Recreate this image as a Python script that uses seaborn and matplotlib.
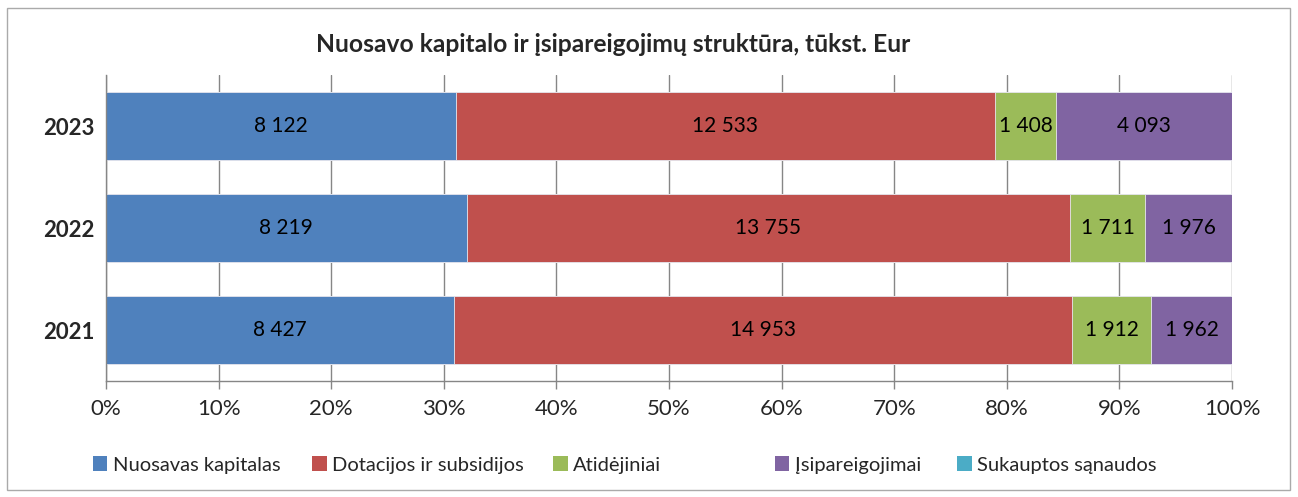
import numpy as np
import pandas as pd
import matplotlib
matplotlib.use("Agg")
import matplotlib.pyplot as plt
from matplotlib.patches import Patch, Rectangle
import seaborn as sns

#data (tukst. Eur)
years = ["2023", "2022", "2021"]
series = ["Nuosavas kapitalas", "Dotacijos ir subsidijos", "Atidėjiniai",
          "Įsipareigojimai", "Sukauptos sąnaudos"]
nuosavas = [8122, 8219, 8427]
dotacijos = [12533, 13755, 14953]
atidejiniai = [1408, 1711, 1912]
isipareigojimai = [4093, 1976, 1962]
sukauptos = [0, 0, 0]
colors = ["#4F81BD", "#C0504D", "#9BBB59", "#8064A2", "#4BACC6"]
legend_x = [93, 312, 553, 775, 957] #px, left of each legend square

sns.set_style("white")
plt.rcParams["font.family"] = ["Lato", "DejaVu Sans"]

vals = np.array([nuosavas, dotacijos, atidejiniai, isipareigojimai, sukauptos], dtype=float)
pct = vals / vals.sum(axis=0) * 100
cum = np.cumsum(pct, axis=0)

W, H = 1298, 497
fig = plt.figure(figsize=(W/100, H/100), dpi=100)
ax = fig.add_axes([106/W, 1-381/H, (1232-106)/W, (381-75)/H])

#draw from the last cumulative down so each segment stays visible
for i in range(len(series)-1, -1, -1):
    df = pd.DataFrame({"year": years, "cum": cum[i]})
    sns.barplot(data=df, x="cum", y="year", order=years, color=colors[i],
                width=0.67, saturation=1, edgecolor="#e8e8f0", linewidth=0.6,
                ax=ax, zorder=2)

#value labels centred on segments
for i in range(len(series)):
    for j in range(len(years)):
        if vals[i, j] <= 0:
            continue
        mid = cum[i, j] - pct[i, j] / 2
        txt = f"{int(vals[i, j]):,}".replace(",", " ")
        ax.text(mid, j, txt, ha="center", va="center", fontsize=15, color="black", zorder=3)

ax.set_xlim(0, 100)
ax.set_ylim(2.5, -0.5)
ax.set_xticks(np.arange(0, 101, 10))
ax.set_xticklabels([f"{t}%" for t in range(0, 101, 10)], fontsize=16)
ax.set_yticks(range(3))
ax.set_yticklabels(years, fontsize=16, fontweight="bold")
ax.set_yticks([-0.5, 0.5, 1.5, 2.5], minor=True)
ax.tick_params(axis="y", which="major", length=0, pad=8)
ax.tick_params(axis="y", which="minor", length=6, color="#868686", width=1)
ax.tick_params(axis="x", which="major", length=6, color="#868686", width=1, pad=7, bottom=True)
ax.set_xlabel("")
ax.set_ylabel("")
ax.xaxis.grid(True, color="#868686", linewidth=1)
ax.set_axisbelow(True)
for s in ["top", "right"]:
    ax.spines[s].set_visible(False)
for s in ["left", "bottom"]:
    ax.spines[s].set_color("#868686")
    ax.spines[s].set_linewidth(1)

fig.text(613/W, 1-45/H, "Nuosavo kapitalo ir įsipareigojimų struktūra, tūkst. Eur",
         ha="center", va="center", fontsize=17.7, fontweight="bold")

#legend entries placed like the excel legend (uneven spacing)
for c, lab, lx in zip(colors, series, legend_x):
    fig.legend([Patch(facecolor=c, edgecolor="none")], [lab], loc="center left",
               bbox_to_anchor=(lx/W, 1-465/H), frameon=False, fontsize=14.5,
               handlelength=0.72, handleheight=0.72, handletextpad=0.25,
               borderpad=0, borderaxespad=0)

#outer frame of the chart area
fig.patches.append(Rectangle((7/W, 1-490/H), 1283/W, 482/H,
                             transform=fig.transFigure, fill=False,
                             edgecolor="#aaaaaa", linewidth=1))

fig.savefig("out.png", dpi=100)
